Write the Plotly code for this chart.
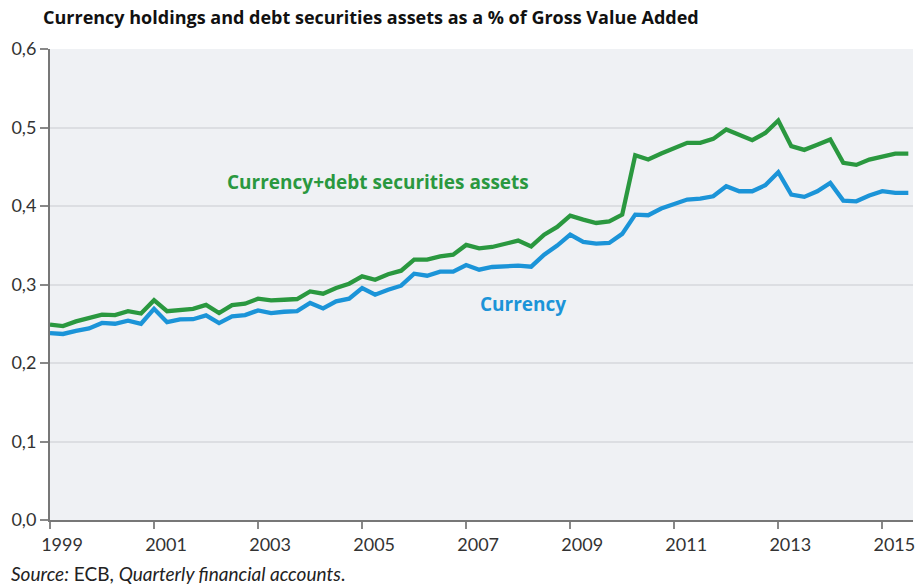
import plotly.graph_objects as go

start_year = 1999
quarters = [start_year + k * 0.25 for k in range(67)]

total = [0.249, 0.247, 0.253, 0.257, 0.2615, 0.261, 0.266, 0.263, 0.280, 0.266, 0.268, 0.269,
         0.274, 0.2636, 0.2738, 0.2755, 0.2819, 0.2798, 0.2806, 0.2815, 0.2912, 0.2883, 0.2955,
         0.301, 0.3104, 0.3061, 0.313, 0.3176, 0.3316, 0.3316, 0.3359, 0.338, 0.3504, 0.346,
         0.3478, 0.352, 0.3559, 0.3486, 0.3635, 0.3733, 0.3878, 0.3827, 0.3784, 0.3805, 0.389,
         0.4647, 0.4592, 0.4668, 0.4732, 0.4805, 0.4805, 0.4855, 0.4974, 0.491, 0.4838, 0.493,
         0.5089, 0.4762, 0.4715, 0.4779, 0.4847, 0.455, 0.4524, 0.4592, 0.4626, 0.4668, 0.4668]

currency = [0.238, 0.237, 0.241, 0.244, 0.251, 0.250, 0.254, 0.250, 0.269, 0.252, 0.2555, 0.2558,
            0.2606, 0.2509, 0.2594, 0.261, 0.267, 0.2636, 0.2653, 0.2662, 0.2764, 0.2695, 0.2785,
            0.2819, 0.2955, 0.287, 0.2934, 0.2985, 0.3138, 0.3112, 0.3163, 0.3163, 0.3248, 0.3189,
            0.3223, 0.3231, 0.324, 0.3227, 0.338, 0.3495, 0.3635, 0.3542, 0.352, 0.3529, 0.3645,
            0.389, 0.3882, 0.3967, 0.4027, 0.4082, 0.4094, 0.4124, 0.4252, 0.4188, 0.4188, 0.4265,
            0.443, 0.4145, 0.4116, 0.4188, 0.4294, 0.4069, 0.406, 0.4133, 0.4188, 0.4167, 0.4167]

year_ticks = [1999, 2001, 2003, 2005, 2007, 2009, 2011, 2013, 2015]
y_ticks = [0.0, 0.1, 0.2, 0.3, 0.4, 0.5, 0.6]
y_tick_labels = ["0,0", "0,1", "0,2", "0,3", "0,4", "0,5", "0,6"]

title_text = "Currency holdings and debt securities assets as a % of Gross Value Added"
label_total = "Currency+debt securities assets"
label_currency = "Currency"
source_text = "<i>Source:</i> ECB, <i>Quarterly financial accounts</i>."

GREEN = "#2a983f"
BLUE = "#1b94d8"
FONT = "Lato"
TITLE_FONT = "Open Sans"

fig = go.Figure()
fig.add_trace(go.Scatter(x=quarters, y=currency, mode="lines",
                         line=dict(color=BLUE, width=4.3), hoverinfo="skip"))
fig.add_trace(go.Scatter(x=quarters, y=total, mode="lines",
                         line=dict(color=GREEN, width=4.3), hoverinfo="skip"))

fig.update_layout(
    width=917, height=585,
    margin=dict(l=50, r=4, t=49, b=65, autoexpand=False),
    paper_bgcolor="white",
    plot_bgcolor="#eff1f4",
    showlegend=False,
    font=dict(family=FONT, color="#333333"),
)

fig.update_xaxes(
    range=[1999, 2015.59],
    tickvals=year_ticks,
    ticktext=[str(y) for y in year_ticks],
    ticks="outside", ticklen=7, tickwidth=1.5, tickcolor="#888888",
    showgrid=False, zeroline=False,
    showline=True, linecolor="#777777", linewidth=2,
    tickfont=dict(size=18, color="#333333", family=FONT),
    ticklabelshift=12, automargin=False,
)
fig.update_yaxes(
    range=[0, 0.6],
    tickvals=y_ticks,
    ticktext=y_tick_labels,
    ticks="outside", ticklen=8, tickwidth=1.5, tickcolor="#888888",
    showgrid=True, gridcolor="#dcdee2", gridwidth=1.5,
    zeroline=False,
    showline=True, linecolor="#777777", linewidth=2,
    tickfont=dict(size=18, color="#333333", family=FONT),
    automargin=False,
)

fig.add_annotation(text="<b>" + title_text + "</b>", xref="paper", yref="paper",
                   x=0, y=1, xanchor="left", yanchor="middle", xshift=-9, yshift=32,
                   showarrow=False, font=dict(size=18, color="#111111", family=TITLE_FONT))
fig.add_annotation(text="<b>" + label_total + "</b>", x=2005.3, y=0.43,
                   showarrow=False, font=dict(size=19, color=GREEN, family=TITLE_FONT))
fig.add_annotation(text="<b>" + label_currency + "</b>", x=2008.09, y=0.2755,
                   showarrow=False, font=dict(size=19, color=BLUE, family=TITLE_FONT))
fig.add_annotation(text=source_text, xref="paper", yref="paper",
                   x=0, y=0, xanchor="left", yanchor="middle", xshift=-41, yshift=-53,
                   showarrow=False, font=dict(size=19, color="#222222", family=FONT))

fig.write_html("out.html", config={"displayModeBar": False},
               post_script="document.body.style.margin='0px';")
